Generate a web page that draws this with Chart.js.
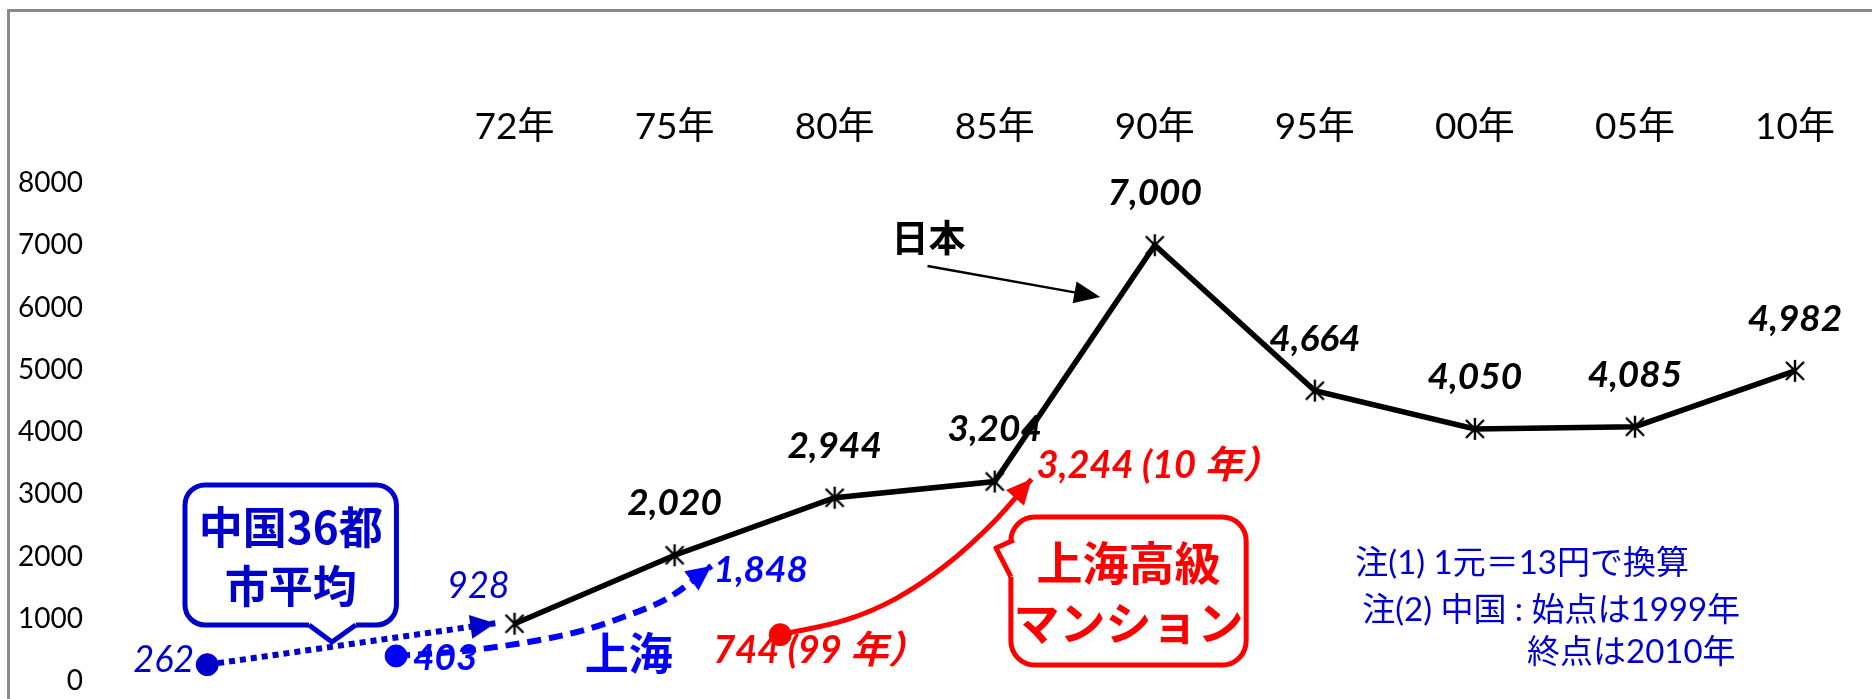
<!DOCTYPE html>
<html lang="ja">
<head>
<meta charset="utf-8">
<title>日本と中国の住宅価格</title>
<script src="https://cdn.jsdelivr.net/npm/chart.js@4.4.1/dist/chart.umd.min.js"></script>
<style>
  html, body { margin: 0; padding: 0; background: #fff; }
  #wrap { width: 1872px; height: 699px; position: relative; }
</style>
</head>
<body>
<div id="wrap"><canvas id="chart"></canvas></div>
<script>
// x positions are counted in category steps: 72年 = 0, 75年 = 1 ... 10年 = 8
const yearLabels = ["72年", "75年", "80年", "85年", "90年", "95年", "00年", "05年", "10年"];
const japanPos = [0, 1, 2, 3, 4, 5, 6, 7, 8];
const japanValues = [920, 2020, 2944, 3204, 7000, 4664, 4050, 4085, 4982];

// China 36 cities average (1999 -> 2010), dotted arrow
const chinaAvgPos = [-1.92, -0.12];
const chinaAvgValues = [262, 928];

// Shanghai, dashed arrow; the middle points follow the drawn curve
const shanghaiPos = [-0.74, -0.26, 0.39, 0.68, 0.97, 1.23];
const shanghaiValues = [403, 498, 787, 1028, 1349, 1848];

// Shanghai luxury apartments (99年 -> 10年)
const luxuryPos = [1.66, 2.07, 2.38, 2.69, 3.0, 3.23];
const luxuryValues = [744, 980, 1320, 1850, 2570, 3244];
const luxuryYears = ["99", "10"];

const notes = ["注(1) 1元＝13円で換算", "注(2) 中国 : 始点は1999年", "終点は2010年"];

const LATO = "Lato, 'Noto Sans CJK JP', sans-serif";
const CJK = "'Noto Sans CJK JP', sans-serif";
const BLUE_DARK = "#0000CC";
const BLUE = "#0000FF";
const RED = "#FF0000";

// Excel style star marker (X with a vertical bar)
const starMarker = document.createElement("canvas");
starMarker.width = 24;
starMarker.height = 24;
(function() {
  let c = starMarker.getContext("2d");
  c.strokeStyle = "#000";
  c.lineWidth = 2.4;
  c.beginPath();
  c.moveTo(3, 3); c.lineTo(21, 21);
  c.moveTo(21, 3); c.lineTo(3, 21);
  c.moveTo(12, 1); c.lineTo(12, 23);
  c.stroke();
})();

function toPoints(pos, values) {
  return pos.map((x, i) => ({ x: x, y: values[i] }));
}

function fmt(v) {
  return v.toLocaleString("en-US");
}

function drawText(ctx, str, x, y, font, color, align) {
  ctx.save();
  ctx.font = font;
  ctx.fillStyle = color;
  ctx.textAlign = align || "center";
  ctx.textBaseline = "middle";
  ctx.fillText(str, x, y);
  ctx.restore();
}

function arrowHead(ctx, fromX, fromY, tipX, tipY, len, half, color) {
  let a = Math.atan2(tipY - fromY, tipX - fromX);
  ctx.save();
  ctx.translate(tipX, tipY);
  ctx.rotate(a);
  ctx.beginPath();
  ctx.moveTo(0, 0);
  ctx.lineTo(-len, -half);
  ctx.lineTo(-len, half);
  ctx.closePath();
  ctx.fillStyle = color;
  ctx.fill();
  ctx.restore();
}

// rounded box with a speech tail; inX/inY point into the box
function callout(ctx, x0, y0, x1, y1, r, b1, tip, b2, inX, inY, color) {
  ctx.save();
  ctx.lineWidth = 5;
  ctx.lineJoin = "round";
  ctx.strokeStyle = color;
  ctx.fillStyle = "#fff";
  ctx.beginPath();
  ctx.roundRect(x0, y0, x1 - x0, y1 - y0, r);
  ctx.fill();
  ctx.stroke();
  ctx.beginPath();
  ctx.moveTo(b1.x + inX, b1.y + inY);
  ctx.lineTo(b1.x, b1.y);
  ctx.lineTo(tip.x, tip.y);
  ctx.lineTo(b2.x, b2.y);
  ctx.lineTo(b2.x + inX, b2.y + inY);
  ctx.closePath();
  ctx.fill();
  ctx.beginPath();
  ctx.moveTo(b1.x, b1.y);
  ctx.lineTo(tip.x, tip.y);
  ctx.lineTo(b2.x, b2.y);
  ctx.stroke();
  ctx.restore();
}

const annotationPlugin = {
  id: "annotations",
  beforeDraw(chart) {
    let ctx = chart.ctx;
    ctx.save();
    ctx.fillStyle = "#fff";
    ctx.fillRect(0, 0, chart.width, chart.height);
    // outer frame, only top and left edges are inside the picture
    ctx.strokeStyle = "#8a8a8a";
    ctx.lineWidth = 3;
    ctx.beginPath();
    ctx.moveTo(8.5, chart.height + 5);
    ctx.lineTo(8.5, 10.5);
    ctx.lineTo(chart.width + 5, 10.5);
    ctx.stroke();
    ctx.restore();
  },
  afterDatasetsDraw(chart) {
    let ctx = chart.ctx;
    let xs = chart.scales.x;
    let ys = chart.scales.y;
    let X = v => xs.getPixelForValue(v);
    let Y = v => ys.getPixelForValue(v);

    // arrow heads at the end of the China lines
    chart.data.datasets.forEach((ds, i) => {
      if (!ds.arrow) return;
      let pts = chart.getDatasetMeta(i).data;
      let last = pts[pts.length - 1];
      let from = pts[pts.length - 2];
      if (last.cp1x !== undefined && (last.cp1x !== last.x || last.cp1y !== last.y)) {
        from = { x: last.cp1x, y: last.cp1y };
      }
      arrowHead(ctx, from.x, from.y, last.x, last.y, 25, 12, ds.borderColor);
    });

    // Japan value labels (72年 is not labelled)
    let jp = chart.getDatasetMeta(0).data;
    jp.forEach((p, i) => {
      if (i === 0) return;
      drawText(ctx, fmt(japanValues[i]), p.x, p.y - 52, "italic bold 37px " + LATO, "#000");
    });

    // China average labels
    let avg = chart.getDatasetMeta(1).data;
    drawText(ctx, fmt(chinaAvgValues[0]), avg[0].x - 13, avg[0].y - 4, "italic 36px " + LATO, BLUE_DARK, "right");
    drawText(ctx, fmt(chinaAvgValues[1]), avg[1].x - 17, avg[1].y - 37, "italic 36px " + LATO, BLUE_DARK);

    // Shanghai labels
    let sh = chart.getDatasetMeta(2).data;
    let shLast = sh[sh.length - 1];
    drawText(ctx, fmt(shanghaiValues[0]), sh[0].x + 17, sh[0].y + 2, "italic bold 37px " + LATO, BLUE, "left");
    drawText(ctx, fmt(shanghaiValues[shanghaiValues.length - 1]), shLast.x + 2, shLast.y + 4, "italic bold 37px " + LATO, BLUE, "left");

    // luxury labels
    let lx = chart.getDatasetMeta(3).data;
    let lxLast = lx[lx.length - 1];
    drawText(ctx, fmt(luxuryValues[0]) + " (" + luxuryYears[0] + " 年）", lx[0].x - 67, lx[0].y + 16, "italic bold 38px " + LATO, RED, "left");
    drawText(ctx, fmt(luxuryValues[luxuryValues.length - 1]) + " (" + luxuryYears[1] + " 年）", lxLast.x + 5, lxLast.y - 13, "italic bold 38px " + LATO, RED, "left");

    // callout: China 36 cities average
    let bx0 = X(-2.059), bx1 = X(-0.738), by0 = Y(3149), by1 = Y(900);
    callout(ctx, bx0, by0, bx1, by1, 20,
      { x: X(-1.284), y: by1 }, { x: X(-1.141), y: Y(627) }, { x: X(-0.992), y: by1 },
      0, -6, BLUE_DARK);
    let bcx = (bx0 + bx1) / 2, bcy = (by0 + by1) / 2;
    drawText(ctx, "中国36都", bcx, bcy - 28, "bold 44px " + CJK, BLUE_DARK);
    drawText(ctx, "市平均", bcx, bcy + 31, "bold 44px " + CJK, BLUE_DARK);

    // callout: Shanghai luxury apartments
    let rx0 = X(3.101), rx1 = X(4.571), ry0 = Y(2635), ry1 = Y(257);
    callout(ctx, rx0, ry0, rx1, ry1, 24,
      { x: rx0 + 3, y: Y(2265) }, { x: X(3.008), y: Y(2137) }, { x: rx0, y: Y(1671) },
      7, 0, RED);
    let rcx = (rx0 + rx1) / 2, rcy = (ry0 + ry1) / 2;
    drawText(ctx, "上海高級", rcx, rcy - 28, "bold 46px " + CJK, RED);
    drawText(ctx, "マンション", rcx, rcy + 32, "bold 46px " + CJK, RED);

    // series names
    drawText(ctx, "上海", X(0.713), Y(450), "bold 44px " + CJK, BLUE);
    drawText(ctx, "日本", X(2.586), Y(7117), "bold 37px " + CJK, "#000");
    let ax0 = X(2.58), ay0 = Y(6667), ax1 = X(3.659), ay1 = Y(6169);
    ctx.save();
    ctx.strokeStyle = "#000";
    ctx.lineWidth = 2.5;
    ctx.beginPath();
    ctx.moveTo(ax0, ay0);
    ctx.lineTo(ax1 - 20, ay1 - 3.6);
    ctx.stroke();
    ctx.restore();
    arrowHead(ctx, ax0, ay0, ax1, ay1, 26, 11, "#000");

    // notes
    let noteFont = "33px " + LATO;
    drawText(ctx, notes[0], X(5.253), Y(1896), noteFont, BLUE_DARK, "left");
    drawText(ctx, notes[1], X(5.296), Y(1140), noteFont, BLUE_DARK, "left");
    drawText(ctx, notes[2], X(6.326), Y(466), noteFont, BLUE_DARK, "left");
  }
};

function startRadius(n) {
  let r = [11];
  for (let i = 1; i < n; i++) r.push(0);
  return r;
}

const chart = new Chart(document.getElementById("chart"), {
  type: "line",
  data: {
    datasets: [
      {
        label: "日本",
        data: toPoints(japanPos, japanValues),
        borderColor: "#000",
        borderWidth: 5.5,
        pointStyle: starMarker,
        pointRadius: 11
      },
      {
        label: "中国36都市平均",
        data: toPoints(chinaAvgPos, chinaAvgValues),
        borderColor: BLUE_DARK,
        backgroundColor: BLUE_DARK,
        borderWidth: 6,
        borderDash: [6, 5],
        pointRadius: startRadius(2),
        pointBorderWidth: 1,
        arrow: true
      },
      {
        label: "上海",
        data: toPoints(shanghaiPos, shanghaiValues),
        borderColor: BLUE,
        backgroundColor: BLUE,
        borderWidth: 6,
        borderDash: [14, 8],
        cubicInterpolationMode: "monotone",
        pointRadius: startRadius(shanghaiPos.length),
        pointBorderWidth: 1,
        arrow: true
      },
      {
        label: "上海高級マンション",
        data: toPoints(luxuryPos, luxuryValues),
        borderColor: RED,
        backgroundColor: RED,
        borderWidth: 5,
        cubicInterpolationMode: "monotone",
        pointRadius: startRadius(luxuryPos.length),
        pointBorderWidth: 1,
        arrow: true
      }
    ]
  },
  options: {
    responsive: true,
    maintainAspectRatio: false,
    animation: false,
    layout: { padding: 0 },
    plugins: {
      legend: { display: false },
      tooltip: { enabled: false }
    },
    scales: {
      x: {
        type: "linear",
        position: "top",
        min: -2.59,
        max: 8.378,
        grid: { display: false, drawTicks: false },
        border: { display: false },
        afterBuildTicks: s => { s.ticks = japanPos.map(v => ({ value: v })); },
        afterFit: s => {
          s.height = 183;
          s.paddingLeft = 0;
          s.paddingRight = 0;
        },
        ticks: {
          padding: 34,
          autoSkip: false,
          maxRotation: 0,
          color: "#000",
          font: { family: LATO, size: 37 },
          callback: v => yearLabels[v]
        }
      },
      y: {
        min: 0,
        max: 8000,
        grid: { display: false, drawTicks: false },
        border: { display: false },
        afterFit: s => {
          s.width = 100;
          s.paddingBottom = 18;
        },
        ticks: {
          stepSize: 1000,
          padding: 17,
          color: "#000",
          font: { family: LATO, size: 28 },
          callback: v => String(v)
        }
      }
    }
  },
  plugins: [annotationPlugin]
});
</script>
</body>
</html>
